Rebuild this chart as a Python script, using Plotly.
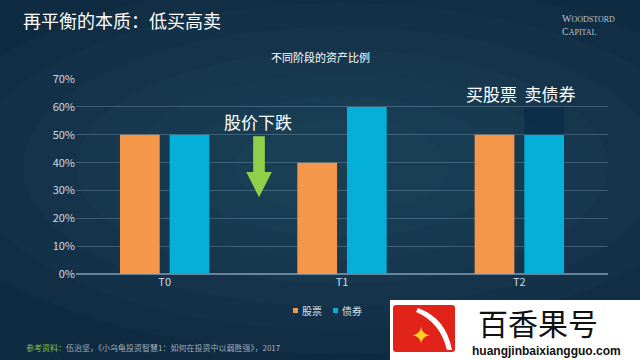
import plotly.graph_objects as go

categories = ["T0", "T1", "T2"]
stocks = [0.50, 0.40, 0.50]
bonds = [0.50, 0.60, 0.50]
ghost_base = [0, 0, 0.50]
ghost = [0, 0, 0.10]
y_ticks = [0, 0.1, 0.2, 0.3, 0.4, 0.5, 0.6, 0.7]
series_names = ["股票", "债券"]

ORANGE = "#f5974b"
BLUE = "#05b0d8"
FONT = "Noto Sans CJK SC"
BG = "#0f2b42"

L, T, PW, PH = 76, 79, 532, 195


def px(x):
    return (x - L) / PW


def py(y):
    return (T + PH - y) / PH


fig = go.Figure()
fig.add_trace(go.Bar(x=categories, y=stocks, name=series_names[0], marker_color=ORANGE,
                     marker_line_width=0, offsetgroup="s"))
fig.add_trace(go.Bar(x=categories, y=bonds, name=series_names[1], marker_color=BLUE,
                     marker_line_width=0, offsetgroup="b"))
fig.add_trace(go.Bar(x=categories, y=ghost, base=ghost_base, name="ghost",
                     marker_color="rgba(5,40,70,0.55)", marker_line_width=0,
                     offsetgroup="b", showlegend=False, hoverinfo="skip"))

shapes = []
# faux radial gradient background
for r in [0.8, 0.7, 0.6, 0.5, 0.4, 0.3, 0.2]:
    shapes.append(dict(type="circle", xref="paper", yref="paper", layer="below",
                       x0=0.5 - r, x1=0.5 + r, y0=0.55 - r * 1.2, y1=0.55 + r * 1.2,
                       fillcolor="rgba(60,110,145,0.05)", line_width=0))
# green down arrow
shapes.append(dict(type="path", xref="paper", yref="y", layer="above",
                   path="M 0.333 0.495 L 0.355 0.495 L 0.355 0.366 L 0.368 0.366 "
                        "L 0.344 0.276 L 0.320 0.366 L 0.333 0.366 Z",
                   fillcolor="#8fcf4a", line_width=0))
# legend swatches
for (x0, c) in [(293, ORANGE), (333, BLUE)]:
    shapes.append(dict(type="rect", xref="paper", yref="paper", x0=px(x0), x1=px(x0 + 5),
                       y0=py(313), y1=py(308), fillcolor=c, line_width=0, layer="above"))
# watermark box
shapes.append(dict(type="rect", xref="paper", yref="paper", x0=px(390), x1=px(641),
                   y0=py(361), y1=py(300), fillcolor="white", line_width=0, layer="above"))
shapes.append(dict(type="path", xref="paper", yref="paper", layer="above",
                   path=f"M {px(396)} {py(305)} L {px(452)} {py(305)} Q {px(455)} {py(305)} {px(455)} {py(308)} "
                        f"L {px(455)} {py(349)} Q {px(455)} {py(352)} {px(452)} {py(352)} "
                        f"L {px(396)} {py(352)} Q {px(393)} {py(352)} {px(393)} {py(349)} "
                        f"L {px(393)} {py(308)} Q {px(393)} {py(305)} {px(396)} {py(305)} Z",
                   fillcolor="#e2231a", line_width=0))
shapes.append(dict(type="path", xref="paper", yref="paper", layer="above",
                   path=f"M {px(418)} {py(308)} Q {px(446)} {py(318)} {px(452)} {py(350)} "
                        f"L {px(447)} {py(350)} Q {px(440)} {py(322)} {px(416)} {py(312)} Z",
                   fillcolor="white", line_width=0))

annotations = [
    dict(text="再平衡的本质：低买高卖", xref="paper", yref="paper", x=px(21), y=py(20),
         xanchor="left", yanchor="middle", showarrow=False, font=dict(size=18, color="white", family=FONT)),
    dict(text="不同阶段的资产比例", xref="paper", yref="paper", x=px(320), y=py(57),
         xanchor="center", yanchor="middle", showarrow=False, font=dict(size=11, color="white", family=FONT)),
    dict(text="W<span style='font-size:8px'>OODSTORD</span><br>C<span style='font-size:8px'>APITAL</span>",
         xref="paper", yref="paper", x=px(560), y=py(25), xanchor="left", yanchor="middle",
         align="left", showarrow=False, font=dict(size=10, color="#b9c4cc", family="Liberation Serif")),
    dict(text="股价下跌", xref="paper", yref="paper", x=px(258), y=py(121),
         xanchor="center", yanchor="middle", showarrow=False, font=dict(size=17, color="white", family=FONT)),
    dict(text="买股票  卖债券", xref="paper", yref="paper", x=px(521), y=py(93),
         xanchor="center", yanchor="middle", showarrow=False, font=dict(size=17, color="white", family=FONT)),
    dict(text=series_names[0], xref="paper", yref="paper", x=px(300), y=py(310), xanchor="left",
         yanchor="middle", showarrow=False, font=dict(size=10, color="#d8e2ea", family=FONT)),
    dict(text=series_names[1], xref="paper", yref="paper", x=px(340), y=py(310), xanchor="left",
         yanchor="middle", showarrow=False, font=dict(size=10, color="#d8e2ea", family=FONT)),
    dict(text="<span style='color:#7fc241'>参考资料：</span>伍治坚，《小乌龟投资智慧1：如何在投资中以弱胜强》，2017",
         xref="paper", yref="paper", x=px(24), y=py(347), xanchor="left",
         yanchor="middle", showarrow=False, font=dict(size=8, color="#9fb0bd", family=FONT)),
    dict(text="✦", xref="paper", yref="paper", x=px(421), y=py(333),
         xanchor="center", yanchor="middle", showarrow=False, font=dict(size=24, color="#ffd21f")),
    dict(text="百香果号", xref="paper", yref="paper", x=px(538), y=py(322),
         xanchor="center", yanchor="middle", showarrow=False, font=dict(size=30, color="#111", family=FONT)),
    dict(text="<b>huangjinbaixiangguo.com</b>", xref="paper", yref="paper", x=px(546),
         y=py(351), xanchor="center", yanchor="middle", showarrow=False,
         font=dict(size=12, color="#111", family="Liberation Sans")),
]

fig.update_layout(
    width=640, height=360,
    margin=dict(l=L, r=640 - L - PW, t=T, b=360 - T - PH),
    paper_bgcolor=BG, plot_bgcolor="rgba(0,0,0,0)",
    barmode="group", bargap=0.44, bargroupgap=0.2,
    font=dict(family=FONT, color="#d0dae2", size=11),
    showlegend=False,
    shapes=shapes,
    annotations=annotations,
    xaxis=dict(showgrid=False, showline=False, ticks="", tickfont=dict(size=11, color="#d0dae2")),
    yaxis=dict(range=[0, 0.7005], tickvals=y_ticks, tickformat=".0%", showgrid=True,
               gridcolor="rgba(140,170,195,0.35)", gridwidth=1, zeroline=True,
               zerolinecolor="rgba(160,185,205,0.6)", showline=False, ticks="",
               tickfont=dict(size=11, color="#d0dae2")),
)

fig.write_html("out.html", config={"displayModeBar": False},
               post_script=f"document.body.style.margin='0';document.body.style.background='{BG}';")
